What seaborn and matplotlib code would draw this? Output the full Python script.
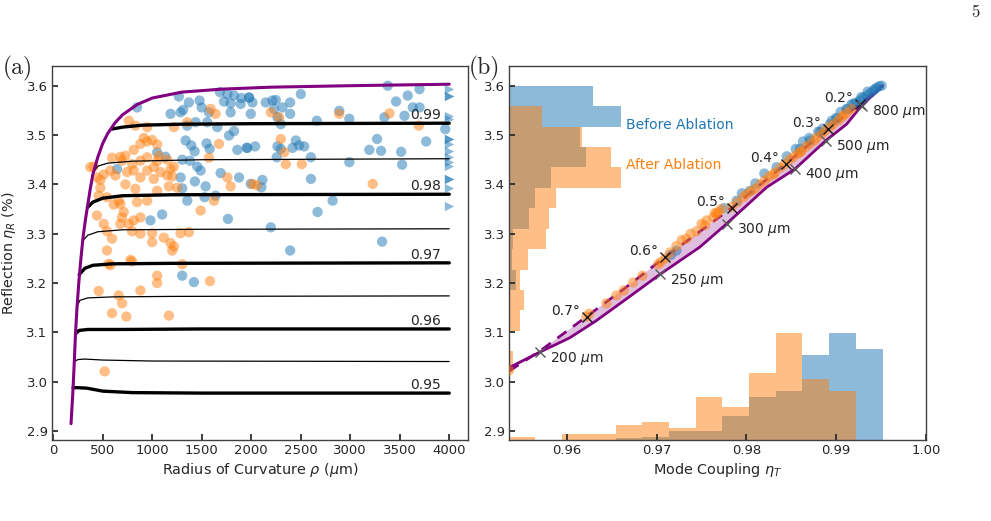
import pandas as pd
import seaborn as sns
from matplotlib import pyplot as plt

# ---------------- panel (a): reflection vs radius of curvature ----------------
# upper bound of the reflection (purple envelope)
env_rho = [180, 200, 213, 225, 240, 260, 280, 300, 325, 350, 375, 400, 450, 500, 550,
           625, 700, 850, 1000, 1300, 1700, 2200, 3000, 4000]
env_R = [2.915, 2.985, 3.041, 3.097, 3.150, 3.205, 3.250, 3.290, 3.328, 3.360, 3.392,
         3.420, 3.455, 3.483, 3.503, 3.525, 3.541, 3.562, 3.575, 3.587, 3.593, 3.597,
         3.600, 3.603]

# iso mode-coupling curves (eta_T label, rho points, eta_R points)
iso_levels = [0.99, 0.985, 0.98, 0.975, 0.97, 0.965, 0.96, 0.955, 0.95]
iso_rho = [
    [590, 700, 900, 1300, 2000, 4000],
    [405, 450, 550, 800, 1500, 4000],
    [345, 400, 500, 700, 1200, 4000],
    [298, 350, 450, 700, 1500, 4000],
    [262, 320, 400, 600, 1200, 4000],
    [238, 270, 350, 600, 1200, 4000],
    [225, 260, 350, 700, 1500, 4000],
    [213, 250, 320, 500, 1000, 4000],
    [200, 250, 340, 500, 800, 1500, 4000],
]
iso_R = [
    [3.512, 3.516, 3.520, 3.522, 3.523, 3.524],
    [3.425, 3.437, 3.443, 3.447, 3.450, 3.452],
    [3.353, 3.364, 3.372, 3.377, 3.379, 3.380],
    [3.286, 3.297, 3.304, 3.308, 3.309, 3.310],
    [3.217, 3.230, 3.236, 3.239, 3.240, 3.241],
    [3.152, 3.165, 3.170, 3.172, 3.173, 3.174],
    [3.097, 3.104, 3.106, 3.106, 3.107, 3.107],
    [3.041, 3.045, 3.046, 3.044, 3.042, 3.041],
    [2.988, 2.988, 2.987, 2.981, 2.978, 2.977, 2.977],
]
iso_labelled = [0.99, 0.98, 0.97, 0.96, 0.95]

# measured mirrors before ablation
before_rho = [847, 1269, 1313, 1286, 1185, 1370, 1478, 1499, 1573, 1556, 1684, 1759,
              1725, 1792, 1826, 1900, 1978, 1792, 1438, 1354, 1337, 1394, 1428, 1549,
              1580, 1657, 1826, 1776, 1860, 1961, 1050, 1134, 1303, 1381, 1455, 1489,
              1691, 1877, 1286, 1303, 1431, 1539, 1640, 1529, 645, 1354, 982, 1100,
              1765, 1995, 1303, 1421,
              1894, 1978, 2012, 1995, 2147, 2214, 2248, 2231, 2316, 2393, 2393, 2501,
              2265, 2299, 2663, 2889, 2991, 3379, 3463, 3581, 3700, 3632, 3548, 3700,
              3345, 3767, 3960, 1954, 2039, 2265, 2299, 2451, 2417, 2484, 2535, 2258,
              2603, 3193, 3271, 3311, 3514, 3524, 2991, 2603, 2113, 2103, 2670, 2822,
              2198, 2393, 3322]
before_R = [3.556, 3.578, 3.551, 3.546, 3.543, 3.566, 3.570, 3.556, 3.546, 3.526, 3.587,
            3.583, 3.568, 3.564, 3.580, 3.575, 3.576, 3.546, 3.526, 3.519, 3.489, 3.479,
            3.467, 3.483, 3.472, 3.516, 3.508, 3.499, 3.470, 3.474, 3.465, 3.456, 3.450,
            3.448, 3.436, 3.428, 3.423, 3.414, 3.414, 3.392, 3.406, 3.396, 3.377, 3.374,
            3.431, 3.367, 3.327, 3.339, 3.330, 3.401, 3.215, 3.202,
            3.563, 3.576, 3.566, 3.543, 3.566, 3.570, 3.571, 3.553, 3.556, 3.566, 3.543,
            3.583, 3.536, 3.522, 3.529, 3.549, 3.533, 3.600, 3.568, 3.580, 3.593, 3.556,
            3.539, 3.556, 3.536, 3.487, 3.512, 3.474, 3.477, 3.477, 3.472, 3.489, 3.474,
            3.479, 3.477, 3.455, 3.455, 3.470, 3.492, 3.468, 3.466, 3.440, 3.445, 3.411,
            3.409, 3.394, 3.344, 3.367, 3.313, 3.266, 3.284]
# mirrors with rho beyond the axis (drawn as triangles at the edge)
beyond_R = [3.593, 3.580, 3.580, 3.539, 3.533, 3.492, 3.492, 3.482, 3.468, 3.455,
            3.445, 3.438, 3.411, 3.411, 3.392, 3.356]

# measured mirrors after ablation
after_rho = [763, 830, 949, 915, 881, 949, 999, 1050, 813, 729, 695, 678, 594, 577,
             510, 476, 408, 442, 628, 746, 813, 881, 949, 1016, 1050, 1151, 1185, 1151,
             1084, 1219, 1016, 881, 949, 1067, 797, 476, 459, 543, 611, 662, 729, 830,
             847, 949, 1050, 1168, 1252, 1202, 881, 813, 678, 712, 695, 763, 442, 510,
             543, 594, 678, 797, 881, 999, 999, 1117, 1185, 1219, 1286, 1370, 1489,
             1624, 1590, 1640, 1674, 1573, 1759, 1792, 1354, 1219, 375,
             543, 1202, 577, 560, 780, 795, 1303, 459, 662, 695, 881, 1050, 1050, 1583,
             594, 739, 1168, 520,
             2198, 2282, 2889, 3396, 3693, 2299, 2333, 2349, 2511, 2012, 2056, 3227]
after_R = [3.529, 3.519, 3.516, 3.494, 3.482, 3.487, 3.490, 3.481, 3.470, 3.458, 3.448,
           3.456, 3.454, 3.428, 3.420, 3.409, 3.436, 3.414, 3.418, 3.425, 3.428, 3.414,
           3.428, 3.435, 3.447, 3.450, 3.431, 3.418, 3.425, 3.436, 3.411, 3.448, 3.455,
           3.458, 3.441, 3.393, 3.377, 3.374, 3.359, 3.367, 3.400, 3.391, 3.364, 3.367,
           3.387, 3.396, 3.393, 3.416, 3.333, 3.327, 3.360, 3.344, 3.333, 3.320, 3.337,
           3.320, 3.305, 3.290, 3.320, 3.305, 3.300, 3.301, 3.283, 3.292, 3.281, 3.274,
           3.301, 3.303, 3.347, 3.367, 3.553, 3.543, 3.482, 3.454, 3.414, 3.396, 3.526,
           3.516, 3.435,
           3.266, 3.266, 3.236, 3.239, 3.247, 3.244, 3.238, 3.184, 3.175, 3.159, 3.185,
           3.215, 3.200, 3.204, 3.139, 3.132, 3.134, 3.021,
           3.546, 3.536, 3.543, 3.544, 3.519, 3.492, 3.465, 3.441, 3.441, 3.401, 3.398,
           3.401]

# ---------------- panel (b): reflection vs mode coupling ----------------
solid_T = [0.95357, 0.95699, 0.96033, 0.96323, 0.96665, 0.97036, 0.97482, 0.97779,
           0.98225, 0.98540, 0.98886, 0.99116, 0.99283, 0.99518]
solid_R = [3.0285, 3.060, 3.089, 3.123, 3.168, 3.2174, 3.273, 3.320, 3.394, 3.431,
           3.489, 3.522, 3.5595, 3.600]
dash_T = [0.9536, 0.9570, 0.9622, 0.9665, 0.9709, 0.9784, 0.9844, 0.9891, 0.9927, 0.9951]
dash_R = [3.022, 3.062, 3.132, 3.190, 3.252, 3.353, 3.442, 3.513, 3.564, 3.600]

angle_T = [0.99265, 0.98908, 0.98440, 0.97836, 0.97092, 0.96223]
angle_R = [3.5636, 3.513, 3.442, 3.353, 3.252, 3.132]
angle_labels = ["0.2°", "0.3°", "0.4°", "0.5°", "0.6°", "0.7°"]
roc_T = [0.95699, 0.97036, 0.97783, 0.98540, 0.98886, 0.99287]
roc_R = [3.0595, 3.2174, 3.3206, 3.432, 3.4887, 3.5595]
roc_labels = ["200 $\\mu$m", "250 $\\mu$m", "300 $\\mu$m", "400 $\\mu$m", "500 $\\mu$m",
              "800 $\\mu$m"]

b_before_T = [0.97222, 0.9716, 0.9775, 0.97891, 0.98039, 0.98336, 0.98596, 0.98708,
              0.98819, 0.98930, 0.99005, 0.99116, 0.99190, 0.99265, 0.99339, 0.99413,
              0.99506, 0.9945, 0.9938, 0.9930, 0.9922, 0.9912, 0.9900, 0.9885, 0.9870,
              0.9795, 0.9810, 0.9820, 0.9845, 0.9855, 0.9863, 0.9880, 0.9895, 0.9905,
              0.9917, 0.9928, 0.9935, 0.9948, 0.9943]
b_before_R = [3.266, 3.257, 3.352, 3.367, 3.387, 3.435, 3.472, 3.489, 3.506, 3.522,
              3.533, 3.553, 3.563, 3.570, 3.580, 3.590, 3.600, 3.596, 3.585, 3.575,
              3.566, 3.552, 3.535, 3.513, 3.494,
              3.382, 3.402, 3.422, 3.457, 3.472, 3.487, 3.507, 3.529, 3.547, 3.562,
              3.577, 3.588, 3.599, 3.593]
b_after_T = [0.95357, 0.96219, 0.9625, 0.96442, 0.96553, 0.96635, 0.96739, 0.96843,
             0.97018, 0.9705, 0.9710, 0.9722, 0.97333, 0.97445, 0.97538, 0.97630,
             0.97686, 0.97557, 0.97668, 0.97835, 0.97965, 0.98095, 0.98206, 0.98318,
             0.98429, 0.98522, 0.98615, 0.98708, 0.98782, 0.98875, 0.98967, 0.99061,
             0.9912, 0.99172, 0.9800, 0.9830, 0.9860,
             0.9765, 0.9772, 0.9790, 0.9805, 0.9815, 0.9825, 0.9838, 0.9848, 0.9857,
             0.9866, 0.9876, 0.9884, 0.9893, 0.9902, 0.9908, 0.9728, 0.9738, 0.9750,
             0.9715]
b_after_R = [3.023, 3.132, 3.138, 3.159, 3.175, 3.185, 3.201, 3.215, 3.238, 3.243,
             3.250, 3.275, 3.290, 3.305, 3.317, 3.333, 3.344, 3.327, 3.340, 3.354,
             3.374, 3.391, 3.408, 3.424, 3.441, 3.455, 3.468, 3.482, 3.495, 3.509,
             3.522, 3.536, 3.545, 3.553, 3.380, 3.420, 3.465,
             3.342, 3.350, 3.364, 3.386, 3.400, 3.416, 3.434, 3.450, 3.462, 3.476,
             3.489, 3.502, 3.516, 3.529, 3.540, 3.287, 3.300, 3.320, 3.262]

# marginal histograms (relative density, same bins for both sets)
yhist_edges = [3.0204, 3.0618, 3.1032, 3.1446, 3.1860, 3.2274, 3.2688, 3.3102, 3.3516,
               3.3930, 3.4344, 3.4758, 3.5172, 3.5586, 3.6000]
yhist_before = [0, 0, 0, 0, 7, 3, 4, 20, 26, 42, 77, 71, 112, 84]
yhist_after = [4, 0, 11, 15, 11, 19, 37, 40, 47, 112, 102, 73, 33, 0]
xhist_edges = [0.95354, 0.95651, 0.95949, 0.96246, 0.96544, 0.96841, 0.97138, 0.97436,
               0.97733, 0.98031, 0.98328, 0.98625, 0.98923, 0.99220, 0.99518]
xhist_before = [0, 0, 0, 0, 2, 3, 9, 9, 24, 43, 49, 85, 107, 91]
xhist_after = [3, 0, 6, 6, 15, 18, 12, 43, 33, 67, 107, 61, 49, 0]

# ---------------- style ----------------
sns.set_theme(style="white")
plt.rcParams["font.family"] = ["DejaVu Sans"]
plt.rcParams.update({
    "font.size": 9.5, "axes.labelsize": 10.4,
    "xtick.labelsize": 9.5, "ytick.labelsize": 9.5,
    "xtick.direction": "in", "ytick.direction": "in",
    "xtick.bottom": True, "ytick.left": True,
    "xtick.major.size": 4, "ytick.major.size": 4,
    "axes.edgecolor": "0.25", "axes.linewidth": 1.0,
})
pal = sns.color_palette("tab10")
c_before, c_after = pal[0], pal[1]
purple = "#800080"
ylim = (2.882, 3.640)

fig = plt.figure(figsize=(9.91, 5.21), dpi=100)
ax_a = fig.add_axes([0.0522, 0.1555, 0.4203, 0.7179])
ax_b = fig.add_axes([0.5136, 0.1555, 0.4208, 0.7179])

# ---- (a) ----
pts_a = pd.concat([
    pd.DataFrame({"rho": before_rho, "R": before_R, "set": "before"}),
    pd.DataFrame({"rho": after_rho, "R": after_R, "set": "after"}),
])
sns.scatterplot(data=pts_a, x="rho", y="R", hue="set", ax=ax_a, legend=False,
                palette={"before": c_before, "after": c_after}, alpha=0.5, s=55,
                linewidth=0, zorder=1)
ax_a.scatter([4000] * len(beyond_R), beyond_R, marker=">", s=45, color=c_before,
             alpha=0.5, linewidth=0, zorder=1)

for lev, xs, ys in zip(iso_levels, iso_rho, iso_R):
    major = lev in iso_labelled
    ax_a.plot(xs, ys, color="black", lw=2.4 if major else 0.9, zorder=2)
    if major:
        ax_a.text(3760, ys[-1] + 0.002, f"{lev:.2f}", ha="center", va="bottom",
                  fontsize=10, zorder=3)
ax_a.plot(env_rho, env_R, color=purple, lw=2.2, zorder=3)

ax_a.set_xlim(-15, 4192)
ax_a.set_ylim(*ylim)
ax_a.set_xticks(range(0, 4001, 500))
ax_a.set_yticks([2.9, 3.0, 3.1, 3.2, 3.3, 3.4, 3.5, 3.6])
ax_a.set_xlabel("Radius of Curvature $\\rho$ ($\\mu$m)", labelpad=3)
ax_a.set_ylabel("Reflection $\\eta_R$ (%)", labelpad=6)

# ---- (b) ----
yw = [b - a for a, b in zip(yhist_edges[:-1], yhist_edges[1:])]
xw = [b - a for a, b in zip(xhist_edges[:-1], xhist_edges[1:])]
x0, y0 = 0.95357, ylim[0]
ax_b.barh(yhist_edges[:-1], [v / 8975 for v in yhist_before], height=yw, left=x0,
          align="edge", color=c_before, alpha=0.5, linewidth=0, zorder=0)
ax_b.barh(yhist_edges[:-1], [v / 8975 for v in yhist_after], height=yw, left=x0,
          align="edge", color=c_after, alpha=0.5, linewidth=0, zorder=0)
ax_b.bar(xhist_edges[:-1], [v / 494 for v in xhist_before], width=xw, bottom=y0,
         align="edge", color=c_before, alpha=0.5, linewidth=0, zorder=0)
ax_b.bar(xhist_edges[:-1], [v / 494 for v in xhist_after], width=xw, bottom=y0,
         align="edge", color=c_after, alpha=0.5, linewidth=0, zorder=0)

band = list(zip(dash_T, dash_R)) + list(zip(solid_T, solid_R))[::-1]
ax_b.fill([p[0] for p in band], [p[1] for p in band], color=purple, alpha=0.25,
          linewidth=0, zorder=1)
ax_b.plot(solid_T, solid_R, color=purple, lw=2.0, zorder=2)
ax_b.plot(dash_T, dash_R, color=purple, lw=2.0, ls=(0, (4, 3)), zorder=2)

pts_b = pd.concat([
    pd.DataFrame({"T": b_before_T, "R": b_before_R, "set": "before"}),
    pd.DataFrame({"T": b_after_T, "R": b_after_R, "set": "after"}),
])
sns.scatterplot(data=pts_b, x="T", y="R", hue="set", ax=ax_b, legend=False,
                palette={"before": c_before, "after": c_after}, alpha=0.5, s=55,
                linewidth=0, zorder=3)

ax_b.plot(angle_T, angle_R, ls="none", marker="x", ms=7, mew=1.0, color="0.1", zorder=4)
ax_b.plot(roc_T, roc_R, ls="none", marker="x", ms=7, mew=1.0, color="0.35", zorder=4)
for t, r, lab in zip(angle_T, angle_R, angle_labels):
    ax_b.annotate(lab, (t, r), xytext=(-7, 6), textcoords="offset pixels",
                  ha="right", va="center", fontsize=10)
for t, r, lab in zip(roc_T, roc_R, roc_labels):
    ax_b.annotate(lab, (t, r), xytext=(10, -6), textcoords="offset pixels",
                  ha="left", va="center", fontsize=10)

ax_b.text(0.96657, 3.521, "Before Ablation", color=c_before, ha="left", va="center",
          fontsize=10)
ax_b.text(0.96657, 3.440, "After Ablation", color=c_after, ha="left", va="center",
          fontsize=10)

ax_b.set_xlim(0.95357, 1.0)
ax_b.set_ylim(*ylim)
ax_b.set_xticks([0.96, 0.97, 0.98, 0.99, 1.00])
ax_b.set_yticks([2.9, 3.0, 3.1, 3.2, 3.3, 3.4, 3.5, 3.6])
ax_b.set_xlabel("Mode Coupling $\\eta_T$", labelpad=3)
ax_b.set_ylabel("")

for ax in (ax_a, ax_b):
    ax.tick_params(pad=3)

fig.text(0.003, 0.868, "(a)", fontsize=17, family="cmr10", va="center")
fig.text(0.473, 0.868, "(b)", fontsize=17, family="cmr10", va="center")
fig.text(0.984, 0.977, "5", fontsize=12, family="cmr10", ha="center", va="center")

fig.savefig("out.png", dpi=100)
